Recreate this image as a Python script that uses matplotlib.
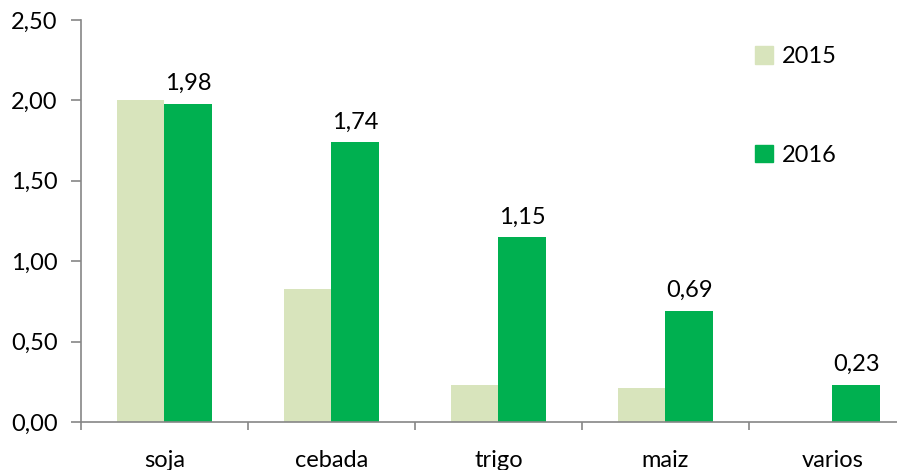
import matplotlib.pyplot as plt
import numpy as np
from matplotlib.patches import Patch

categorias = ['soja', 'cebada', 'trigo', 'maiz', 'varios']
valores_2015 = [2.00, 0.83, 0.23, 0.21, 0.0]
valores_2016 = [1.98, 1.74, 1.15, 0.69, 0.23]
color_2015 = '#d8e4bc'
color_2016 = '#00b050'

plt.rcParams['font.family'] = ['Lato', 'DejaVu Sans']
plt.rcParams['font.size'] = 17

fig = plt.figure(figsize=(8.97, 4.70), dpi=100)
ax = fig.add_axes([0.0903, 0.1021, 0.9097, 0.8553])

x = np.arange(len(categorias))
w = 0.283
ax.bar(x - w / 2, valores_2015, w, color=color_2015)
ax.bar(x + w / 2, valores_2016, w, color=color_2016)

# etiquetas solo para 2016
for xi, v in zip(x, valores_2016):
    ax.annotate(f'{v:.2f}'.replace('.', ','), (xi + w / 2, v),
                xytext=(0, 7), textcoords='offset points',
                ha='center', va='bottom')

yt = np.arange(0, 2.51, 0.5)
ax.set_yticks(yt)
ax.set_yticklabels([f'{t:.2f}'.replace('.', ',') for t in yt])
ax.set_xticks(x)
ax.set_xticklabels(categorias)
ax.set_xticks(np.arange(-0.5, 4.0, 1), minor=True)
ax.set_ylim(0, 2.5)
ax.set_xlim(-0.5, -0.5 + 816 / 167)

ax.tick_params(axis='x', which='major', length=0, pad=20)
ax.tick_params(axis='x', which='minor', length=6, color='#868686', width=1.2)
ax.tick_params(axis='y', length=7, color='#868686', width=1.2, pad=10)

for s in ['top', 'right']:
    ax.spines[s].set_visible(False)
for s in ['left', 'bottom']:
    ax.spines[s].set_color('#868686')
    ax.spines[s].set_linewidth(1.2)

handles = [Patch(color=color_2015, label='2015'), Patch(color=color_2016, label='2016')]
ax.legend(handles=handles, loc='upper left', bbox_to_anchor=(0.826, 0.935),
          frameon=False, labelspacing=3.3, handlelength=0.75, handleheight=0.75,
          handletextpad=0.4, borderaxespad=0, borderpad=0)

fig.savefig('out.png', dpi=100)
